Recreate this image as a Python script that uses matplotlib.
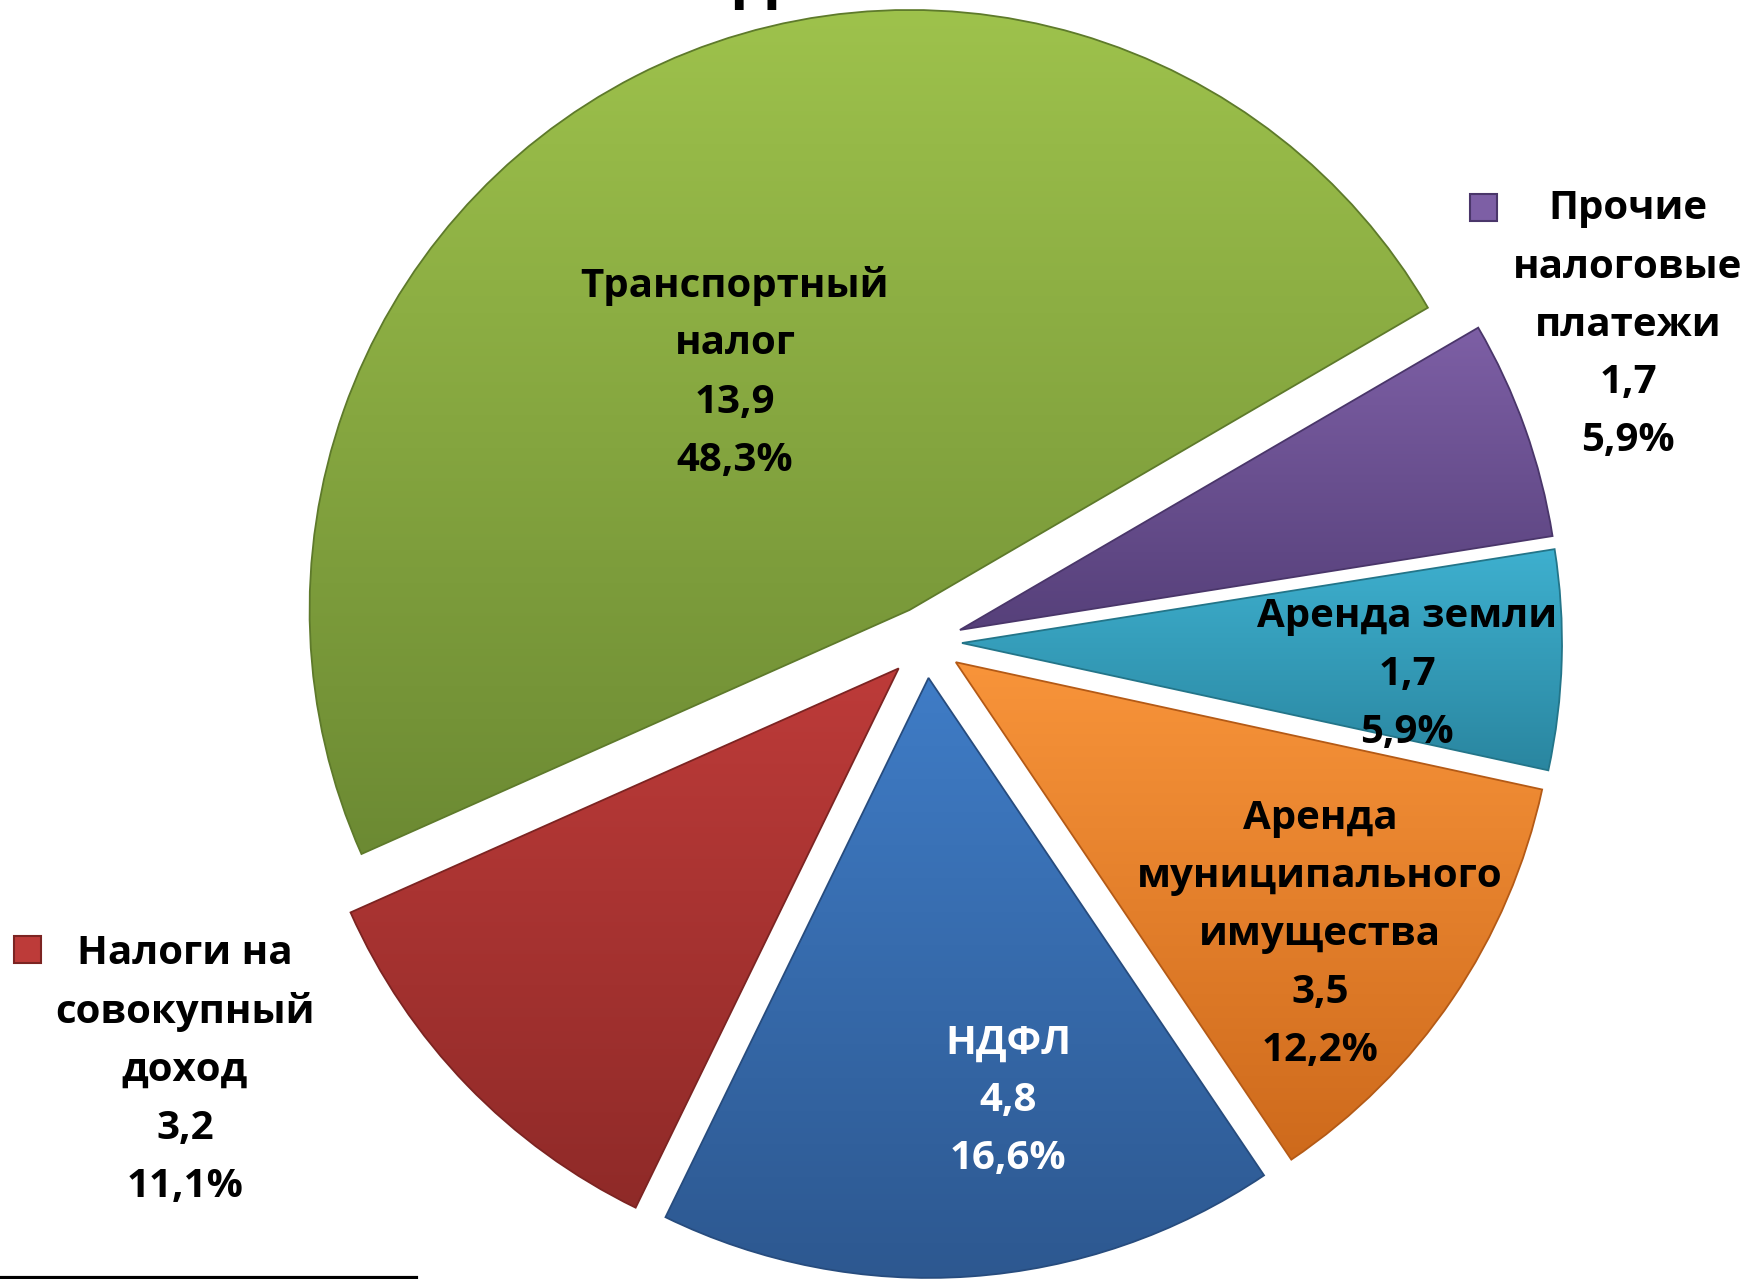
import numpy as np
import matplotlib
matplotlib.use("Agg")
import matplotlib.pyplot as plt
from matplotlib.colors import LinearSegmentedColormap
from matplotlib.patches import Rectangle, PathPatch
from matplotlib.lines import Line2D

# data (млн руб.)
names = ["Транспортный\nналог", "Прочие\nналоговые\nплатежи", "Аренда земли",
         "Аренда\nмуниципального\nимущества", "НДФЛ",
         "Налоги на\nсовокупный\nдоход"]
values = [13.9, 1.7, 1.7, 3.5, 4.8, 3.2]
value_labels = ["13,9", "1,7", "1,7", "3,5", "4,8", "3,2"]
pct_labels = ["48,3%", "5,9%", "5,9%", "12,2%", "16,6%", "11,1%"]

# light (top) / dark (bottom) shade of each slice
top_colors = ["#9EC24C", "#7D5FA5", "#3EB0CF", "#F8943A", "#3F7CC6", "#BD3B39"]
bottom_colors = ["#6C8A33", "#56407A", "#2A86A0", "#CE6A1C", "#2D5890", "#8F2A28"]
edge_colors = ["#5E7A2B", "#4A366A", "#237589", "#B45A16", "#274C7E", "#7C2422"]

W, H = 1747, 1279
CX, CY, R = 926, 642, 600   # pie centre and radius, image pixels
explode = [36, 36, 36, 36, 36, 38]   # offsets in pixels


def Y(y_img):
    return H - y_img


plt.rcParams['font.family'] = ['Open Sans', 'DejaVu Sans']

fig = plt.figure(figsize=(W / 100, H / 100), dpi=100)
ax = fig.add_axes([0, 0, 1, 1])

wedges, _ = ax.pie(values, explode=explode, colors=top_colors, startangle=204,
                   counterclock=False, radius=R, center=(CX, Y(CY)),
                   wedgeprops=dict(linewidth=0))
ax.set_aspect('auto')
ax.axis('off')

# vertical gradient inside every slice
for w, c1, c2, ec in zip(wedges, top_colors, bottom_colors, edge_colors):
    ext = w.get_path().get_extents()
    cmap = LinearSegmentedColormap.from_list("g", [c2, c1])
    grad = np.linspace(0, 1, 256).reshape(-1, 1)
    im = ax.imshow(grad, cmap=cmap, origin='lower', aspect='auto',
                   extent=[ext.x0, ext.x1, ext.y0, ext.y1], zorder=w.get_zorder() + 0.1)
    im.set_clip_path(w)
    ax.add_patch(PathPatch(w.get_path(), fill=False, edgecolor=ec,
                           linewidth=1.3, zorder=w.get_zorder() + 0.2))

ax.set_xlim(0, W)
ax.set_ylim(0, H)

# label placement (centre x, centre y of the text block), image pixels
label_pos = [(735, 373), (1628, 325), (1407, 674), (1320, 934), (1008, 1101), (185, 1070)]
text_colors = ["black", "black", "black", "black", "white", "black"]
step = 58
fs = 29

for name, v, p, (x, y), tc in zip(names, value_labels, pct_labels, label_pos, text_colors):
    lines = name.split("\n") + [v, p]
    n = len(lines)
    for i, line in enumerate(lines):
        yy = y + (i - (n - 1) / 2) * step
        ax.text(x, Y(yy), line, ha='center', va='center', fontsize=fs,
                fontweight='bold', color=tc, zorder=10)

# legend keys next to the outside labels
for (kx, ky), c1, c2 in [((1484, 207), top_colors[1], edge_colors[1]),
                         ((28, 949), top_colors[5], edge_colors[5])]:
    s = 27
    ax.add_patch(Rectangle((kx - s / 2, Y(ky) - s / 2), s, s, facecolor=c1,
                           edgecolor=c2, linewidth=1.5, zorder=10))

# cut-off title at the very top
ax.text(755, Y(-3), "д", ha='center', va='baseline', fontsize=47,
        fontweight='bold', color='black', zorder=10)

# line at the bottom left
fig.add_artist(Line2D([0, 416 / W], [1.5 / H, 1.5 / H], color='black', linewidth=3))

fig.savefig("out.png", dpi=100)
